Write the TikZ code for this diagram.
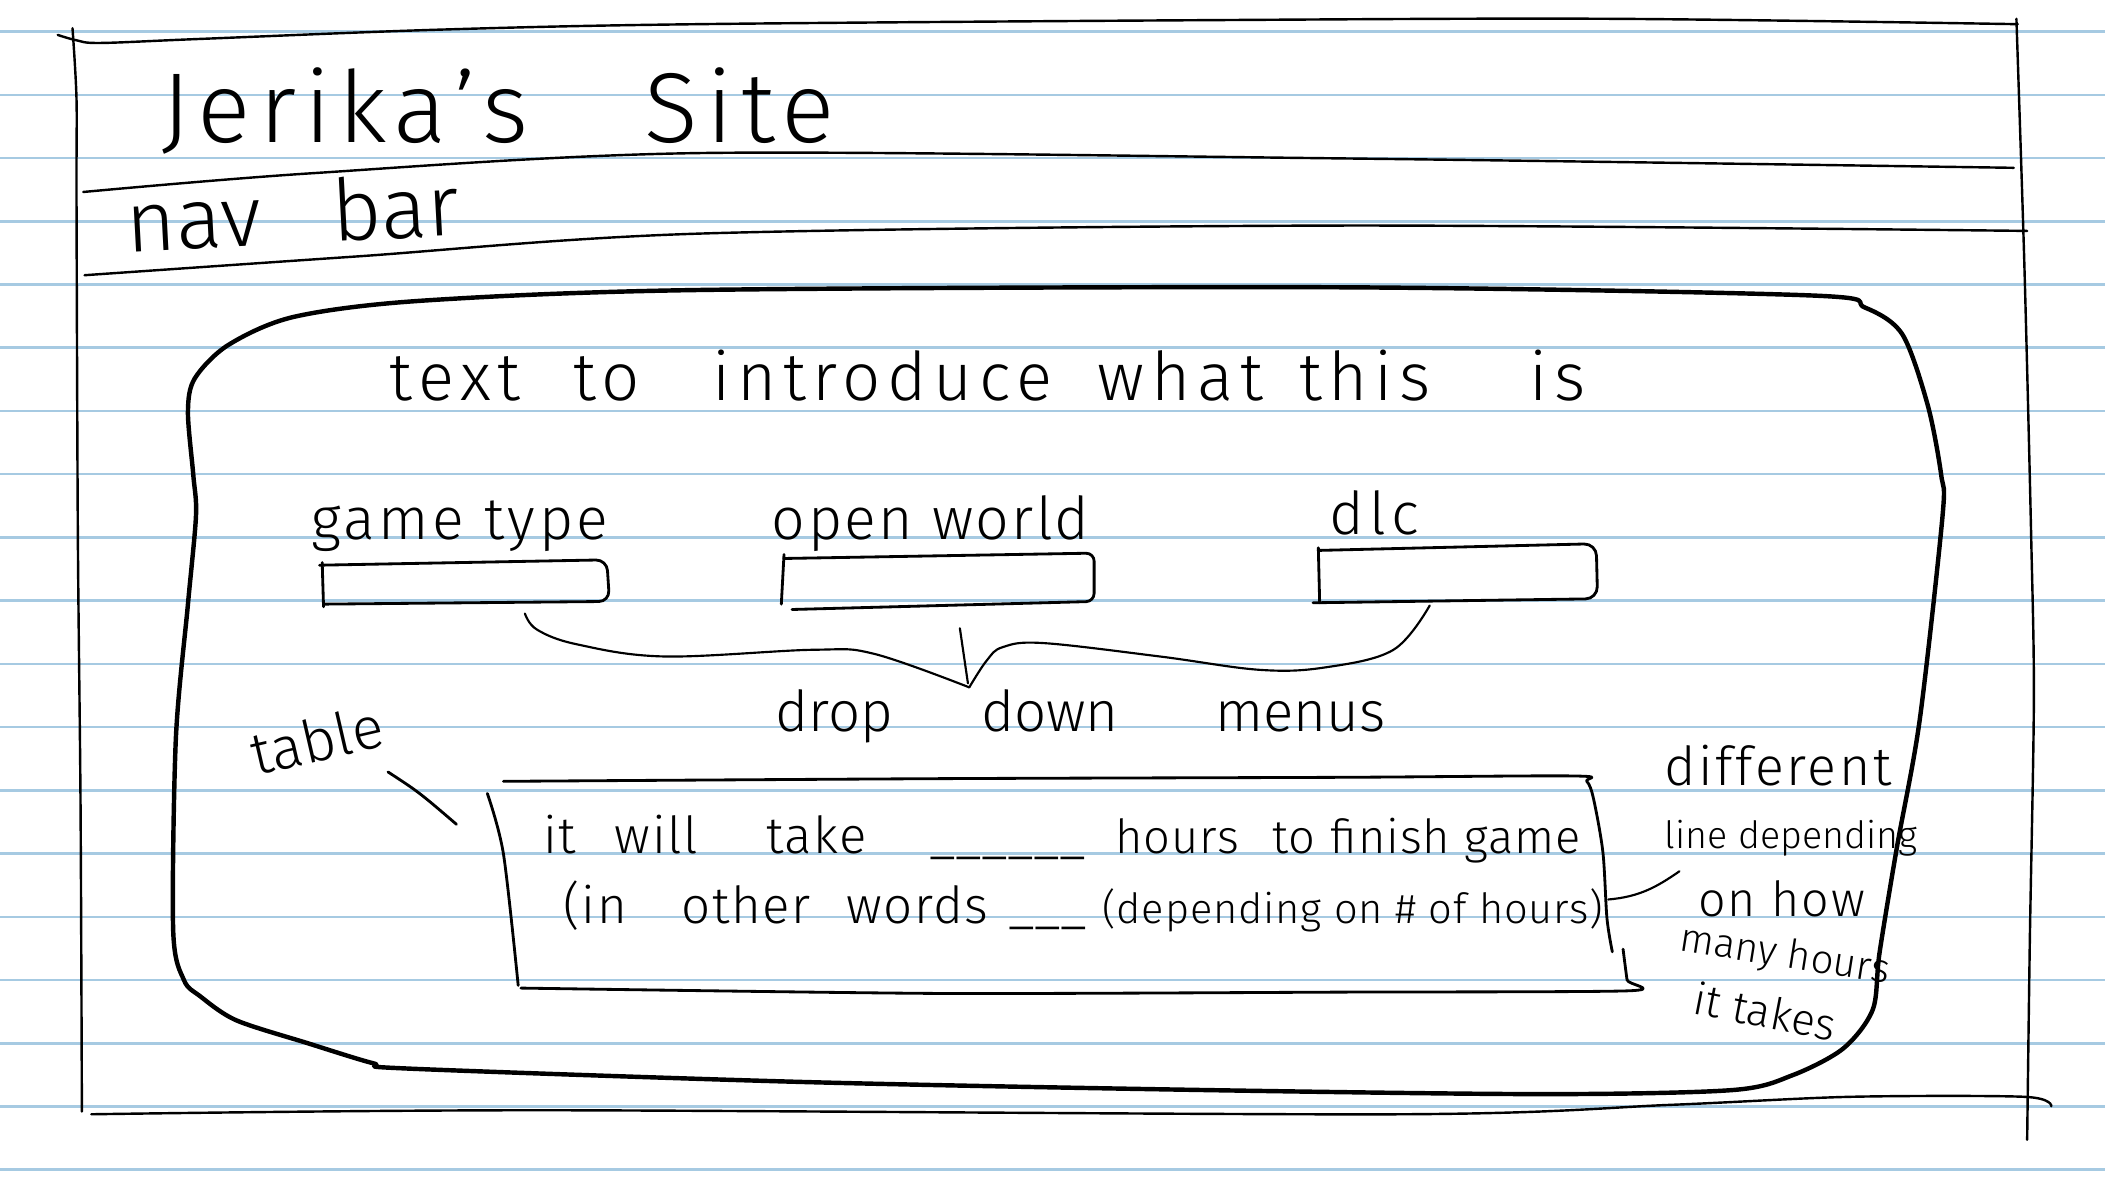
\documentclass[tikz,border=0pt]{standalone}
\usepackage{fontspec}
\IfFontExistsTF{Fira Sans Light}{\setmainfont{Fira Sans Light}}{\setmainfont{Fira Sans}}
\definecolor{paperblue}{RGB}{166,202,226}
% size and letter spacing for a hand-lettered line
\newcommand\hf[2]{\fontsize{#1}{#1}\selectfont\addfontfeatures{LetterSpace=#2}}
\newcommand\hs[1]{\fontsize{#1}{#1}\selectfont}
\newcommand\blankline[1]{{\addfontfeatures{LetterSpace=0}#1}}
\begin{document}
\begin{tikzpicture}[x=1pt,y=-1pt,line cap=round,line join=round,
  frame/.style={draw=black,line width=1.8pt},
  panel/.style={draw=black,line width=3.3pt},
  box/.style={draw=black,line width=2.1pt},
  thin ink/.style={draw=black,line width=1.6pt},
  rule line/.style={draw=paperblue,line width=1.9pt},
  hw/.style={anchor=base west,inner sep=0pt,outer sep=0pt,text=black}]
\useasboundingbox (0,0) rectangle (1568,895);
\fill[white] (0,0) rectangle (1568,895);

% ruled notebook paper
\foreach \k in {0,...,18}{\draw[rule line] (0,{23.5+47.1*\k}) -- (1568,{23.5+47.1*\k});}

% page frame
\draw[frame] plot[smooth,tension=0.55] coordinates {(43,26)(57,30)(75,32)(149,29)(330,22)(520,18)(900,15)(1200,14)(1503,18)};
\draw[frame] plot[smooth] coordinates {(54,21)(57,74)(57,149)(58,400)(60,600)(61,828)};
\draw[frame] plot[smooth] coordinates {(1502,14)(1508,200)(1513,400)(1515,521)(1512,700)(1510,849)};
\draw[frame] plot[smooth] coordinates {(62,143)(233,129)(521,114)(1000,118)(1500,125)};
\draw[frame] plot[smooth] coordinates {(63,205)(266,191)(521,174)(1000,168)(1510,172)};
\draw[frame] plot[smooth] coordinates {(68,830)(400,827)(1043,830)(1244,823)(1378,817)(1508,817)(1528,824)};

% header texts
\node[hw] (title) at (120,106) {\hf{74}{8}Jerika's\hspace{60pt} Site};
\node[hw,rotate=3] (navbar) at (95,188) {\hs{64}nav\hspace{35pt} bar};

% content panel
\draw[panel] plot[smooth cycle,tension=0.5] coordinates {(146,384)(144,354)(140,307)(145,282)(170,257)(219,236)(314,224)(521,216)(1000,214)(1347,220)(1389,229)(1417,249)(1436,302)(1446,354)(1447,384)(1430,536)(1413,631)(1400,710)(1395,752)(1373,781)(1335,801)(1290,812)(1150,815)(900,812)(600,806)(305,796)(278,792)(229,777)(176,760)(149,742)(137,730)(129,693)(131,550)(140,450)};

\node[hw] (intro) at (290,298) {\hf{50}{10}text\hspace{20pt} to\hspace{35pt} introduce\hspace{15pt} what\hspace{8pt} this\hspace{55pt} is};

% drop-down labels and fields
\node[hw] (lblGame) at (232,402) {\hf{44}{6}game type};
\node[hw] (lblOpen) at (575,402) {\hf{44}{4}open world};
\node[hw] (lblDlc) at (990,398) {\hf{44}{10}dlc};

\draw[box] (241,452) -- (240,419);
\draw[box,rounded corners=8pt] (238,421) -- (452,417) -- (454,448) -- (242,450);
\draw[box] (584,413) -- (582,450);
\draw[box,rounded corners=6pt] (584,416) -- (815,412) -- (815,448) -- (590,454);
\draw[box] (982,408) -- (983,449);
\draw[box,rounded corners=9pt] (982,410) -- (1189,405) -- (1190,446) -- (978,449);

% brace gathering the three fields
\draw[thin ink] plot[smooth,tension=0.6] coordinates {(391,457)(400,469)(430,480)(495,489)(606,484)(651,487)(722,512)};
\draw[thin ink] plot[smooth,tension=0.6] coordinates {(722,512)(735,492)(747,482)(777,479)(864,489)(939,499)(988,497)(1038,484)(1065,451)};
\draw[thin ink] (715,468) -- (721,509);

\node[hw] (lblMenus) at (578,545) {\hs{42}drop\hspace{54pt} down\hspace{60pt} menus};

% table with its label
\node[hw,rotate=13] (lblTable) at (191,578) {\hs{44}table};
\coordinate (tp1) at (289,575);
\coordinate (tp2) at (340,614);
\draw[box] (tp1) .. controls (312,590) .. (tp2);

\draw[box] plot[smooth,tension=0.5] coordinates {(375,582)(700,580)(1000,579)(1172,578)(1182,582)(1187,595)(1194,635)(1197,684)(1201,709)};
\draw[box] plot[smooth] coordinates {(363,591)(375,636)(386,734)};
\draw[box] plot[smooth,tension=0.4] coordinates {(1209,707)(1212,730)(1214,738)(1000,739)(700,740)(388,736)};

\node[hw] (row1) at (405,636) {\hf{38}{3}it\hspace{17pt} will\hspace{39pt} take\hspace{35pt} \blankline{\_\_\_\_\_\_}\hspace{10pt} {\hf{35}{2}hours\hspace{14pt} to\hspace{1pt} finish game}};
\node[hw] (row2) at (420,688) {\hf{38}{3}(in\hspace{29pt} other\hspace{15pt} words\hspace{3pt} \blankline{\_\_\_} {\hf{31}{2}(depending on \# of hours)}};

% note on the right
\coordinate (c1) at (1198,670);
\coordinate (c2) at (1251,649);
\draw[thin ink] (c1) .. controls (1222,668) and (1235,660) .. (c2);
\node[hw] (ann1) at (1240,585) {\hf{40}{5}different};
\node[hw] (ann2) at (1240,632) {\hs{28}line depending};
\node[hw] (ann3) at (1265,683) {\hf{36}{4}on how};
\node[hw,rotate=-9] (ann4) at (1250,708) {\hs{30}many hours};
\node[hw,rotate=-11] (ann5) at (1260,755) {\hs{33}it takes};
\end{tikzpicture}
\end{document}
